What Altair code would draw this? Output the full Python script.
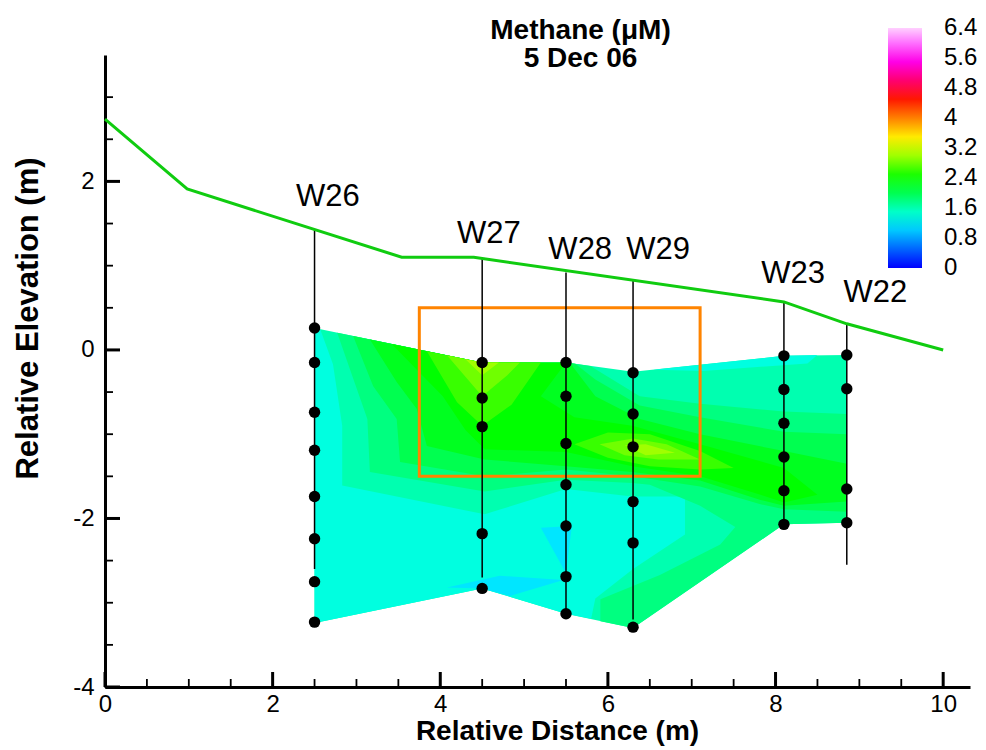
import altair as alt
import pandas as pd

# ---------------- data ----------------
# colour map of the contour legend (value -> colour)
CMAP_V = [-0.001, 0.4, 0.8, 1.2, 1.4, 1.6, 1.8, 2.0, 2.2, 2.4, 2.8, 3.2, 3.4, 3.8, 4.0, 4.4, 4.6, 5.0, 5.6, 6.0, 6.401]
CMAP_C = ["#0000ff", "#0050ff", "#00a0ff", "#00f0ff", "#00ffe0", "#00ffb0", "#00ff80", "#00ff50",
          "#00ff20", "#00ff00", "#70ff00", "#d0ff00", "#ffff00", "#ffb000", "#ff8000", "#ff3000",
          "#ff0000", "#ff0070", "#ff00ff", "#ff70ff", "#ffd0ff"]
LEGEND_TICKS = [0, 0.8, 1.6, 2.4, 3.2, 4, 4.8, 5.6, 6.4]

# contour bands (methane, uM) as polygons in (distance, elevation)
BAND_VALUES = [1.6, 1.4, 1.4, 1.15, 1.15, 1.8, 2.0, 2.2, 2.4, 2.6, 2.8, 3.0, 2.6, 2.8, 3.0]
BAND_X = [
    [2.5, 4.5, 5.5, 6.3, 8.1, 8.85, 8.85, 8.1, 6.3, 5.5, 4.5, 2.5],
    [2.5, 2.57, 2.72, 2.83, 2.83, 4.53, 5.5, 6.29, 6.92, 6.92, 6.3, 5.85, 5.8, 5.5, 4.5, 2.5],
    [6.54, 8.1, 8.5, 8.38, 7.14],
    [5.2, 5.57, 5.5],
    [4.08, 4.71, 5.47, 4.83, 4.5],
    [2.77, 4.5, 5.5, 5.79, 6.38, 7.1, 8.1, 8.85, 8.85, 8.1, 6.3, 5.91, 5.91, 6.62, 7.34, 7.52, 7.1, 6.5, 6.29, 5.5, 4.53, 3.16, 3.13],
    [2.96, 3.2, 3.48, 3.52, 4.53, 5.5, 6.29, 7.1, 7.82, 8.1, 8.85, 8.85, 8.1, 7.1, 6.38, 5.85, 5.61, 5.5, 4.5],
    [3.16, 3.48, 3.72, 3.84, 4.53, 5.5, 6.29, 7.1, 7.82, 8.1, 8.85, 8.85, 8.1, 7.1, 6.38, 5.85, 5.55, 4.5],
    [3.42, 4.03, 4.3, 4.53, 5.5, 6.29, 7.1, 7.82, 8.1, 8.5, 8.1, 7.1, 6.29, 5.6, 5.2, 5.5, 4.5],
    [3.84, 4.2, 4.5, 4.85, 5.2, 4.5],
    [4.08, 4.5, 4.8, 4.95, 4.5],
    [4.3, 4.5, 4.7, 4.5],
    [5.6, 6.0, 6.5, 7.1, 7.5, 7.1, 6.5, 6.0],
    [5.9, 6.3, 6.7, 7.1, 6.6, 6.2],
    [6.2, 6.45, 6.8, 6.45],
]
BAND_Y = [
    [0.26, -0.15, -0.15, -0.26, -0.07, -0.06, -2.05, -2.07, -3.3, -3.13, -2.83, -3.24],
    [0.26, 0.24, -0.17, -0.9, -1.61, -1.95, -1.65, -1.74, -1.74, -2.19, -2.6, -2.95, -3.19, -3.13, -2.83, -3.24],
    [-0.235, -0.07, -0.06, -0.16, -0.25],
    [-2.11, -2.09, -2.65],
    [-2.82, -2.68, -2.73, -2.92, -2.83],
    [0.205, -0.15, -0.15, -0.19, -0.55, -0.64, -0.73, -0.76, -2.05, -2.07, -3.3, -3.22, -2.96, -2.67, -2.31, -2.1, -1.85, -1.6, -1.58, -1.54, -1.68, -1.45, -0.82],
    [0.166, -0.43, -0.82, -1.33, -1.5, -1.42, -1.5, -1.62, -1.83, -1.89, -1.92, -1.0, -0.97, -0.8, -0.66, -0.35, -0.165, -0.15, -0.15],
    [0.125, -0.38, -0.7, -1.14, -1.3, -1.38, -1.45, -1.55, -1.78, -1.85, -1.8, -1.35, -1.2, -1.0, -0.82, -0.55, -0.157, -0.15],
    [0.07, -0.55, -0.95, -1.18, -1.21, -1.38, -1.5, -1.72, -1.81, -1.72, -1.4, -1.12, -0.9, -0.8, -0.55, -0.15, -0.15],
    [-0.015, -0.62, -0.9, -0.65, -0.15, -0.15],
    [-0.064, -0.55, -0.3, -0.15, -0.15],
    [-0.11, -0.3, -0.15, -0.15],
    [-1.12, -0.98, -1.0, -1.2, -1.4, -1.42, -1.38, -1.28],
    [-1.12, -1.05, -1.12, -1.3, -1.3, -1.25],
    [-1.13, -1.12, -1.22, -1.25],
]

# ground surface
SURF_X = [0, 0.98, 3.54, 4.4, 8.1, 8.85, 10.0]
SURF_Y = [2.74, 1.91, 1.1, 1.1, 0.57, 0.31, 0.0]

# wells
WELL_NAMES = ["W26", "W27", "W28", "W29", "W23", "W22"]
WELL_X = [2.5, 4.5, 5.5, 6.3, 8.1, 8.85]
WELL_TOP = [1.43, 1.08, 0.92, 0.82, 0.57, 0.31]
WELL_BOTTOM = [-2.6, -2.7, -3.13, -3.2, -2.07, -2.55]
LABEL_X = [2.66, 4.58, 5.67, 6.6, 8.21, 9.19]
LABEL_Y = [1.82, 1.37, 1.18, 1.18, 0.9, 0.67]
SAMPLE_DEPTHS = [
    [0.26, -0.15, -0.74, -1.19, -1.74, -2.24, -2.75, -3.23],
    [-0.15, -0.57, -0.91, -2.18, -2.83],
    [-0.15, -0.55, -1.11, -1.6, -2.09, -2.69, -3.13],
    [-0.27, -0.76, -1.15, -1.8, -2.29, -3.29],
    [-0.07, -0.47, -0.87, -1.27, -1.67, -2.07],
    [-0.06, -0.46, -1.65, -2.05],
]

# highlighted box
BOX_X = [3.75, 7.1]
BOX_Y = [-1.5, 0.5]

X_DOMAIN = [0, 10.32]
Y_DOMAIN = [-4, 3.5]
X_LABELS = [0, 2, 4, 6, 8, 10]
Y_LABELS = [-4, -2, 0, 2]
X_MINOR = [0.5, 1, 1.5, 2.5, 3, 3.5, 4.5, 5, 5.5, 6.5, 7, 7.5, 8.5, 9, 9.5]
Y_MINOR = [-3.5, -3, -2.5, -1.5, -1, -0.5, 0.5, 1, 1.5, 2.5, 3]

# ---------------- tables ----------------
rows = []
for k, (v, xs_, ys_) in enumerate(zip(BAND_VALUES, BAND_X, BAND_Y)):
    for i, (x, y) in enumerate(zip(xs_, ys_)):
        rows.append({"pid": f"p{k:02d}", "i": i, "x": x, "y": y, "v": v})
field = pd.DataFrame(rows)

wells = pd.DataFrame({"name": WELL_NAMES, "x": WELL_X, "top": WELL_TOP, "bottom": WELL_BOTTOM,
                      "lx": LABEL_X, "ly": LABEL_Y})
pts = pd.DataFrame([{"x": wx, "y": d} for wx, ds in zip(WELL_X, SAMPLE_DEPTHS) for d in ds])
surf = pd.DataFrame({"x": SURF_X, "y": SURF_Y})
box = pd.DataFrame({"x1": [BOX_X[0]], "x2": [BOX_X[1]], "y1": [BOX_Y[0]], "y2": [BOX_Y[1]]})

# ---------------- chart ----------------
FONT = "Liberation Sans"
W, H = 865, 632
MAJOR_LEN, MINOR_LEN = 15, 8
xsc = alt.Scale(domain=X_DOMAIN, nice=False, zero=False)
ysc = alt.Scale(domain=Y_DOMAIN, nice=False, zero=False)

XAX = alt.Axis(values=X_LABELS, ticks=False, grid=False, labelFont=FONT, labelFontSize=24,
               labelColor="black", labelPadding=5, labelFlush=False, labelExpr="'' + datum.value",
               domainColor="black", domainWidth=3, title="Relative Distance (m)", titleFont=FONT,
               titleFontSize=28, titleFontWeight="bold", titleColor="black", titleX=452, titleY=44,
               titleAlign="center", titleBaseline="middle")
YAX = alt.Axis(values=Y_LABELS, ticks=False, grid=False, labelFont=FONT, labelFontSize=24,
               labelColor="black", labelPadding=11, labelFlush=False, labelExpr="'' + datum.value",
               domainColor="black", domainWidth=3, title="Relative Elevation (m)", titleFont=FONT,
               titleFontSize=31, titleFontWeight="bold", titleColor="black", titleX=-77, titleY=263,
               titleAngle=270, titleAlign="center", titleBaseline="middle")


def X(field_name):
    return alt.X(field_name, type="quantitative", scale=xsc, axis=XAX)


def Y(field_name):
    return alt.Y(field_name, type="quantitative", scale=ysc, axis=YAX)


field_layer = alt.Chart(field).mark_line(filled=True).encode(
    x=X("x"),
    y=Y("y"),
    color=alt.Color("v:Q", scale=alt.Scale(domain=CMAP_V, range=CMAP_C, interpolate="rgb"),
                    legend=alt.Legend(orient="none", legendX=783, legendY=-27, direction="vertical",
                                      gradientLength=240, gradientThickness=34, gradientStrokeWidth=0,
                                      values=LEGEND_TICKS, labelExpr="'' + datum.value",
                                      labelFont=FONT, labelFontSize=24, labelColor="black",
                                      labelOffset=22, labelOverlap=False, title=None)),
    order=alt.Order("i:Q"),
    detail="pid:N",
)

box_layer = alt.Chart(box).mark_rect(fill="transparent", stroke="#ff8400", strokeWidth=3).encode(
    x=X("x1"), x2="x2:Q", y=Y("y1"), y2="y2:Q",
)

well_layer = alt.Chart(wells).mark_rule(color="black", strokeWidth=1.5).encode(
    x=X("x"), y=Y("top"), y2="bottom:Q",
)

dot_layer = alt.Chart(pts).mark_circle(size=130, color="black", opacity=1).encode(
    x=X("x"), y=Y("y"),
)

surf_layer = alt.Chart(surf).mark_line(color="#10cc10", strokeWidth=3).encode(
    x=X("x"), y=Y("y"),
)

label_layer = alt.Chart(wells).mark_text(font=FONT, fontSize=31, color="black", align="center",
                                         baseline="middle").encode(
    x=X("lx"), y=Y("ly"), text="name:N",
)


# inward-pointing axis ticks
def x_ticks(values, length, width):
    return alt.Chart(pd.DataFrame({"x": values})).mark_rule(color="black", strokeWidth=width).encode(
        x=X("x"), y=alt.value(H), y2=alt.value(H - length),
    )


def y_ticks(values, length, width):
    return alt.Chart(pd.DataFrame({"y": values})).mark_rule(color="black", strokeWidth=width).encode(
        y=Y("y"), x=alt.value(0), x2=alt.value(length),
    )


tick_layers = [x_ticks(X_LABELS, MAJOR_LEN, 3), x_ticks(X_MINOR, MINOR_LEN, 1.8),
               y_ticks(Y_LABELS, MAJOR_LEN, 3), y_ticks(Y_MINOR, MINOR_LEN, 1.8)]

chart = alt.layer(field_layer, box_layer, well_layer, dot_layer, surf_layer, label_layer,
                  *tick_layers).properties(
    width=W, height=H,
    title=alt.TitleParams(["Methane (\u03bcM)", "5 Dec 06"], font=FONT, fontSize=28, fontWeight="bold",
                          color="black", anchor="middle", frame="group", dx=43, offset=-45, lineHeight=28),
    padding={"left": 105, "top": 55, "right": 16, "bottom": 63},
    autosize="none",
    background="white",
).configure_view(strokeWidth=0)

chart.save("out.html", embed_options={"renderer": "svg", "actions": False})
